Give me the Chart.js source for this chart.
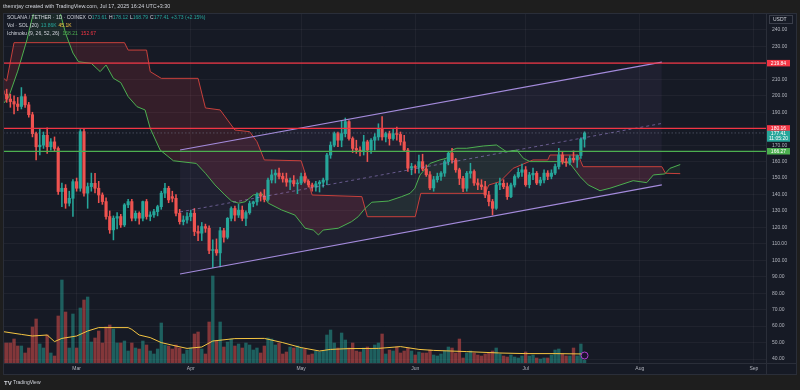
<!DOCTYPE html>
<html>
<head>
<meta charset="utf-8">
<script src="https://cdn.jsdelivr.net/npm/chart.js@4.4.1/dist/chart.umd.min.js"></script>
<style>
  html, body { margin: 0; padding: 0; background: #1e1e1e; }
  #wrap { width: 800px; height: 390px; }
</style>
</head>
<body>
<div id="wrap"><canvas id="solChart" width="800" height="390"></canvas></div>
<script>
// x = days since 2025-02-09 (one candle per day, last one = Jul 17)
const monthDays = [20, 51, 81, 112, 142, 173, 204];
const monthLabels = ['Mar', 'Apr', 'May', 'Jun', 'Jul', 'Aug', 'Sep'];
const priceTicks = [40, 50, 60, 70, 80, 90, 100, 110, 120, 130, 140, 150, 160, 170, 180, 190, 200, 210, 220, 230, 240];

// SOL/USDT daily candles
const opens = [203,201,198,196.5,195,193.5,199.5,194.5,188.5,177,169,170,176,169,172,168,141.8,143.8,134.7,137.7,
  147.8,143.8,178.2,140.8,144.8,146.8,143.8,139.7,135.7,126.6,118.5,125.6,126.6,121.5,133.7,135.7,125.6,128.6,125.6,135.7,
  126.6,127.6,129.6,132.6,140.8,143.8,138.7,137.7,128.6,123.5,124.5,126.6,128.6,117.5,116.5,120.5,119.5,106,106.5,104.5,
  118,114,125.5,131.5,127.5,130.5,125.5,129,134.5,135.5,140,139,137,148.8,151.9,153,151,149.5,147.5,148.5,
  146.5,147,150.9,148,145.8,144.5,146.5,147.5,148.8,164,170,177,173,177,184.3,174,168,167,166,172,
  167,173,175,180,175,177,174,177,176.5,172,167,156,157,156.5,160,155.5,152,144,149,151,
  153,160,165,161,155,149.8,143.8,152.9,154,147,145.8,144.8,139.7,135.7,131.6,145.8,146.8,144.8,138.7,145.8,
  150.9,153.5,155,146,151.9,152.9,147,148.8,153,151,153,157,164,160,159.5,162,161,163.68,173.61];
const highs = [206,204,201,200,199,205,201,196,190,178,180,178,180.5,174,175,169,147,146,142,149,
  150,179.5,180,147,153,152.9,148,141,138,130,127,129,128,134.5,137,137,130,129.5,136,137,
  129.5,131,133.5,142,146.8,145,142,140,131,127,129,130.5,131.5,121,123,122,121,112.5,113,120,
  119.5,126,132.5,133,134,133,130,136,136,141,141.5,143,150,155,155,156,153,153,150,151.5,
  149,153,153,149,147,148,148.5,150,165,172,178,178,185,186.5,185,175,173,169,176,173,
  174,177,183,187.3,178,178.5,180,181,178,176,168,159,158,164,164.5,158,154,151,153,154,
  161,166,168,162,156,151,154,159,155,149.5,149,148,142,137,147,150,149,147,147,152,
  156,158.5,157,153.5,156,154,150.5,155,154.5,155,158.5,168,166,162,163.5,166.5,164,174.5,178.12];
const lows = [195,196,193,189,191,192,193,187,175,161,164,168,165,167,166,140,132.6,131.6,133,126.6,
  142,142,139,131.6,142,141,135,134,125,116.4,112.4,119,120,120.5,132,124,124,122,124,125,
  124,126,127,131,138,135,135.5,127,122,121.5,122.5,124,115,112,112,117,104,95.5,103,96,
  111,113,124,124,126,124,121,128,132.5,133.5,136,135.5,136,147,147,149.5,147.5,145,143,145,
  140.5,146,147,144.5,142,142,141.5,144.5,146,162,169,169,169,175,173,165.5,165,163.5,164,160,
  165,167,173,173,172,170,173,173,170,166,154,152,153,153,154.5,151,143,142,147.5,148.5,
  151,158,159,153.5,146,141.7,142,150,145.5,143,143,138,133,127.6,131,143,143.5,137,138,144.5,
  150,151,145,144,149,146,145.5,147,149,149.5,152,155.5,158.5,157,158,159.5,156.5,162,168.79];
const closes = [201,198,196.5,195,193.5,199.5,194.5,188.5,177,169,170,176,169,172,168,141.8,143.8,134.7,137.7,147.8,
  143.8,178.2,140.8,144.8,146.8,143.8,139.7,135.7,126.6,118.5,125.6,126.6,121.5,133.7,135.7,125.6,128.6,125.6,135.7,126.6,
  127.6,129.6,132.6,140.8,143.8,136.7,137.7,128.6,123.5,124.5,126.6,128.6,117.5,116.5,120.5,119.5,106,106.5,104.5,118,
  114,125.5,131.5,127.5,130.5,125.5,129,134.5,135.5,140,139,137,148.8,151.9,153,151,149.5,147.5,148.5,146.5,
  147,150.9,148,145.8,144.5,146.5,147.5,148.8,164,170,177,173,177,184.3,174,168,167,166,172,167,
  173,175,180,175,177,174,177,176.5,172,167,156,157,156.5,160,155.5,152,144,149,151,153,
  160,165,161,155,149.8,143.8,152.9,154,147,145.8,144.8,139.7,135.7,131.6,145.8,146.8,144.8,138.7,145.8,150.9,
  153.5,155,146,151.9,152.9,147,148.8,153,151,153,157,164,160,159.5,162,161,163.5,173.68,177.41];
// volume in thousands of SOL
const volumes = [100,100,100,120,85,85,50,75,180,220,95,75,140,50,35,235,415,255,75,245,
  75,275,315,330,105,125,160,100,180,190,170,100,100,110,60,100,75,70,110,90,
  60,45,70,200,90,85,70,90,75,45,65,75,145,155,70,45,205,435,110,205,
  80,105,120,85,95,75,100,90,65,75,50,85,125,120,90,100,45,55,80,75,
  85,75,70,40,45,60,55,60,140,165,100,75,150,115,75,100,60,55,75,80,
  70,90,100,145,45,65,60,80,50,60,75,60,40,55,50,50,65,40,35,45,
  60,80,75,50,120,25,50,60,50,40,35,45,50,60,75,45,35,30,40,30,
  25,35,55,35,40,25,20,25,25,40,65,70,45,35,35,75,35,95,13.86];

// volume MA (20)
const volMaDays = [0,5,8,12,14,16,20,23,26,34,35,37,40,43,47,50,54,57,63,71,76,81,86,89,94,102,108,113,117,126,135,142,150,158];
const volMaValues = [157,143,135,140,107,123,135,160,177,177,168,140,127,102,85,73,80,110,122,123,102,77,60,68,72,73,82,68,63,57,50,47,47,45.1];

// Ichimoku (9, 26, 52, 26) leading spans
const spanADays = [0,1.5,4,6.5,8,9,15,17,19,20.5,24,26.4,28,30,32,34,36.4,38.6,40,42.7,46.3,52.5,55,57.6,60.3,62.1,64,65.8,68,70.3,72.1,
  75.7,79.3,82.1,84.3,85.7,87,91.1,94.7,96.5,98.4,100.2,104.7,108.3,110.6,111.9,113.3,116,118.7,120.5,121.9,123.3,126,130.5,134.1,
  136.8,139.6,141.4,143.2,151.3,154,156.8,159,162.2,164.9,171.2,174.9,176.7,179.8,181.2,184];
const spanAValues = [195,199,215,234,248,255,255,238,226,220.7,219.7,214.7,218.7,210.6,208,199.5,193.4,191.4,180.2,167,160.5,158.9,152.9,145.8,139.7,136,134.7,135.6,139.7,140.7,134.7,
  130.6,127.5,119.5,118.4,115.4,118.4,119.5,123.5,126.5,131.6,135.3,136,138.7,140.7,143.8,151.9,158.9,161,162,167,168.1,168.1,169.5,170.1,
  166,167,162,160,160,159,150.8,145.8,142.3,143.8,148.4,147.2,151.9,152.5,155.9,158.21];
const spanBDays = [0,1,3,33,34,39,40,43,53,55,59,61,63,67,69,71,81,84,97.5,99,112,113.5,131,132,135,138.6,144,148,148.6,156.3,157,157.6,179,180,184];
const spanBValues = [211,209,232.3,232.3,227.8,227.8,214.7,210.6,210.6,192.6,191.4,185.3,179.2,178.2,172.1,161,160.5,139.7,138.7,126.5,126.5,140.7,140.7,145.8,147.8,155.9,161,161,164,164,160,156.9,156.9,152.9,152.67];

// drawn parallel channel
const channelDays = [48.1, 179];
const channelUpper = [167.05, 220.5];
const channelLower = [91.67, 145.8];
const channelMid = [129.4, 183.2];

// horizontal levels
const levels = [219.84, 180.16, 166.27];

const UP = '#26a69a', DOWN = '#ef5350';
const GREEN_LEVEL = '#4caf50', RED_LEVEL = '#f23645';
const levelColors = [RED_LEVEL, RED_LEVEL, GREEN_LEVEL];
const FONT = '"Liberation Sans", Arial, sans-serif';
const last = closes.length - 1;

const isUp = closes.map((c, i) => c >= opens[i]);
const candleColors = isUp.map(u => u ? UP : DOWN);
const volColors = isUp.map(u => u ? 'rgba(38,166,154,0.5)' : 'rgba(239,83,80,0.5)');
const pts = (xs, ys) => xs.map((x, i) => ({ x: x, y: ys[i] }));

function txt(ctx, s, x, y, color, size) {
  ctx.font = (size || 5) + 'px ' + FONT;
  ctx.fillStyle = color;
  ctx.fillText(s, x, y);
  return x + ctx.measureText(s).width;
}

function priceBox(ctx, py, bg, lines) {
  const h = lines.length > 1 ? 11 : 6.5;
  ctx.fillStyle = bg;
  ctx.fillRect(767, py - 3.25, 23, h);
  ctx.fillStyle = '#ffffff';
  ctx.font = '5px ' + FONT;
  ctx.textAlign = 'center';
  ctx.textBaseline = 'middle';
  lines.forEach((l, i) => ctx.fillText(l, 778.5, py + i * 4.6));
  ctx.textAlign = 'left';
}

const chromePlugin = {
  id: 'chrome',
  beforeDraw(chart) {
    const c = chart.ctx;
    c.save();
    c.fillStyle = '#1e1e1e';
    c.fillRect(0, 0, chart.width, chart.height);
    c.fillStyle = '#161a25';
    c.fillRect(3, 13, 794, 362);
    c.restore();
  },
  afterDatasetsDraw(chart) {
    const { ctx, chartArea: a, scales: { x, y } } = chart;
    ctx.save();
    ctx.beginPath();
    ctx.rect(a.left, a.top, a.right - a.left, a.bottom - a.top);
    ctx.clip();
    levels.forEach((v, i) => {
      const py = y.getPixelForValue(v);
      ctx.strokeStyle = levelColors[i];
      ctx.lineWidth = 1.2;
      ctx.beginPath(); ctx.moveTo(a.left, py); ctx.lineTo(a.right, py); ctx.stroke();
    });
    const cy = y.getPixelForValue(closes[last]);
    ctx.strokeStyle = 'rgba(130,140,160,0.55)';
    ctx.lineWidth = 0.8;
    ctx.setLineDash([1.5, 2]);
    ctx.beginPath(); ctx.moveTo(a.left, cy); ctx.lineTo(a.right, cy); ctx.stroke();
    ctx.setLineDash([]);
    // event marker under the last bar
    const ix = x.getPixelForValue(last);
    ctx.fillStyle = '#1c1330';
    ctx.strokeStyle = '#b040d0';
    ctx.lineWidth = 1;
    ctx.beginPath(); ctx.arc(ix, 355.5, 3.5, 0, Math.PI * 2); ctx.fill(); ctx.stroke();
    ctx.restore();
  },
  afterDraw(chart) {
    const { ctx, chartArea: a, scales: { y } } = chart;
    ctx.save();
    // frame and separators
    ctx.strokeStyle = '#2a2e39';
    ctx.lineWidth = 1;
    ctx.strokeRect(3.5, 13.5, 793, 361);
    ctx.beginPath();
    ctx.moveTo(a.right + 0.5, 13); ctx.lineTo(a.right + 0.5, 375);
    ctx.moveTo(3, a.bottom + 0.5); ctx.lineTo(797, a.bottom + 0.5);
    ctx.stroke();

    // price labels on the right scale
    levels.forEach((v, i) => priceBox(ctx, y.getPixelForValue(v), levelColors[i], [v.toFixed(2)]));
    priceBox(ctx, y.getPixelForValue(closes[last]) + 1, UP, [closes[last].toFixed(2), '11:05:20']);

    // currency box
    ctx.strokeStyle = '#3a3e4a';
    ctx.fillStyle = '#161a25';
    ctx.fillRect(769, 15, 23, 8);
    ctx.strokeRect(769.5, 15.5, 23, 8);
    ctx.textBaseline = 'middle';
    txt(ctx, 'USDT', 773, 19.6, '#d1d4dc', 5);

    // header
    txt(ctx, 'themrjay created with TradingView.com, Jul 17, 2025 16:24 UTC+3:30', 3, 6.5, '#d1d4dc', 5.4);

    // legend
    const chg = closes[last] - closes[last - 1];
    const pct = chg / closes[last - 1] * 100;
    let lx = txt(ctx, 'SOLANA / TETHER · 1D · COINEX', 7, 17.5, '#d1d4dc', 5) + 2;
    [['O', opens[last]], ['H', highs[last]], ['L', lows[last]], ['C', closes[last]]].forEach(([k, v]) => {
      lx = txt(ctx, k, lx, 17.5, '#d1d4dc', 5);
      lx = txt(ctx, v.toFixed(2), lx, 17.5, UP, 5) + 2;
    });
    txt(ctx, '+' + chg.toFixed(2) + ' (+' + pct.toFixed(2) + '%)', lx, 17.5, UP, 5);

    lx = txt(ctx, 'Vol · SOL (20)', 7, 25.5, '#d1d4dc', 5) + 2;
    lx = txt(ctx, volumes[last].toFixed(2) + 'K', lx, 25.5, UP, 5) + 2;
    txt(ctx, volMaValues[volMaValues.length - 1].toFixed(1) + 'K', lx, 25.5, '#f5c542', 5);

    lx = txt(ctx, 'Ichimoku (9, 26, 52, 26)', 7, 33.5, '#d1d4dc', 5) + 3;
    lx = txt(ctx, spanAValues[spanAValues.length - 1].toFixed(2), lx, 33.5, GREEN_LEVEL, 5) + 3;
    txt(ctx, spanBValues[spanBValues.length - 1].toFixed(2), lx, 33.5, RED_LEVEL, 5);

    // footer logo
    ctx.font = 'bold 6px ' + FONT;
    ctx.fillStyle = '#d1d4dc';
    ctx.fillText('TV', 4, 383);
    txt(ctx, 'TradingView', 13, 383, '#d1d4dc', 5);
    ctx.restore();
  }
};

new Chart(document.getElementById('solChart'), {
  type: 'bar',
  data: {
    datasets: [
      { // candle bodies
        data: opens.map((o, i) => ({ x: i, y: [o, closes[i]] })),
        backgroundColor: candleColors, barThickness: 2.5, minBarLength: 0.8,
        grouped: false, order: 1, yAxisID: 'y'
      },
      { // wicks
        data: lows.map((l, i) => ({ x: i, y: [l, highs[i]] })),
        backgroundColor: candleColors, barThickness: 0.9,
        grouped: false, order: 2, yAxisID: 'y'
      },
      { // volume
        data: volumes.map((v, i) => ({ x: i, y: v })),
        backgroundColor: volColors, barThickness: 2.7,
        grouped: false, order: 9, yAxisID: 'vol'
      },
      {
        type: 'line', data: pts(volMaDays, volMaValues), yAxisID: 'vol',
        borderColor: '#f5c542', borderWidth: 1, pointRadius: 0, order: 8
      },
      {
        type: 'line', data: pts(spanADays, spanAValues), yAxisID: 'y',
        borderColor: '#4caf50', borderWidth: 1, pointRadius: 0, order: 6,
        fill: { target: 5, above: 'rgba(76,175,80,0.10)', below: 'rgba(242,54,69,0.14)' }
      },
      {
        type: 'line', data: pts(spanBDays, spanBValues), yAxisID: 'y',
        borderColor: '#c8403c', borderWidth: 1, pointRadius: 0, order: 6
      },
      {
        type: 'line', data: pts(channelDays, channelUpper), yAxisID: 'y',
        borderColor: '#a48bdc', borderWidth: 1.2, pointRadius: 0, order: 0,
        fill: '+1', backgroundColor: 'rgba(149,117,205,0.07)'
      },
      {
        type: 'line', data: pts(channelDays, channelLower), yAxisID: 'y',
        borderColor: '#a48bdc', borderWidth: 1.2, pointRadius: 0, order: 0
      },
      {
        type: 'line', data: pts(channelDays, channelMid), yAxisID: 'y',
        borderColor: 'rgba(164,139,220,0.6)', borderWidth: 0.9, borderDash: [3, 3], pointRadius: 0, order: 0
      }
    ]
  },
  options: {
    responsive: false,
    animation: false,
    devicePixelRatio: 1,
    events: [],
    layout: { padding: { left: 3, right: 3, top: 13, bottom: 15 } },
    plugins: {
      legend: { display: false },
      tooltip: { enabled: false },
      filler: { drawTime: 'beforeDatasetsDraw' }
    },
    scales: {
      x: {
        type: 'linear', min: 0, max: 207.3, offset: false,
        afterBuildTicks: s => { s.ticks = monthDays.map(v => ({ value: v })); },
        afterFit: s => { s.height = 12; },
        ticks: {
          autoSkip: false, maxRotation: 0, padding: 3,
          color: '#b2b5be', font: { size: 5, family: FONT },
          callback: (v, i) => monthLabels[i]
        },
        grid: { color: 'rgba(255,255,255,0.045)', drawTicks: false, offset: false },
        border: { display: false }
      },
      y: {
        position: 'right', min: 37.57, max: 250.33,
        afterBuildTicks: s => { s.ticks = priceTicks.map(v => ({ value: v })); },
        afterFit: s => { s.width = 31; },
        ticks: {
          autoSkip: false, padding: 6,
          color: '#b2b5be', font: { size: 5, family: FONT },
          callback: v => v.toFixed(2)
        },
        grid: { color: 'rgba(255,255,255,0.045)', drawTicks: false },
        border: { display: false }
      },
      vol: { display: false, min: 0, max: 1750 }
    }
  },
  plugins: [chromePlugin]
});
</script>
</body>
</html>
